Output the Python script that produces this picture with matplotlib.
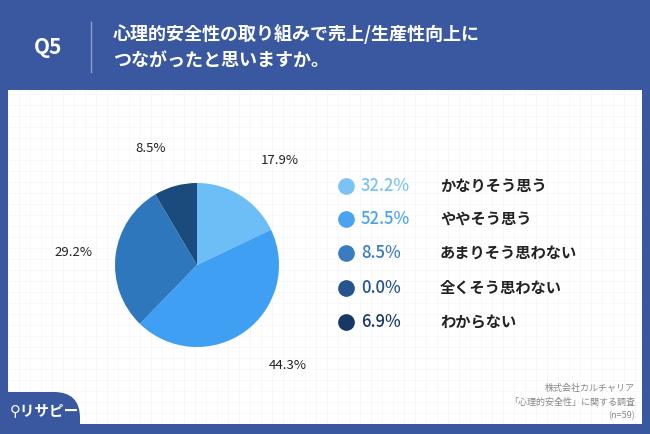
import matplotlib.pyplot as plt
from matplotlib.patches import FancyBboxPatch

plt.rcParams['font.family'] = ['Noto Sans CJK JP', 'DejaVu Sans']

# data
pie_values = [17.9, 44.3, 29.2, 8.5]
pie_labels = ['17.9%', '44.3%', '29.2%', '8.5%']
pie_colors = ['#6dbdf6', '#3f9ff2', '#2f77bd', '#1b4a7c']

legend_pct = ['32.2%', '52.5%', '8.5%', '0.0%', '6.9%']
legend_names = ['かなりそう思う', 'ややそう思う', 'あまりそう思わない', '全くそう思わない', 'わからない']
legend_colors = ['#7cc3f5', '#4aa3f0', '#3a7cc0', '#24558c', '#173866']

W, H = 650, 434
fig = plt.figure(figsize=(6.5, 4.34), dpi=100)
fig.patch.set_facecolor('#3a58a0')

def fx(x): return x / W
def fy(y): return 1 - y / H

# white panel with faint grid
bg = fig.add_axes([fx(8), fy(424), fx(634), (424 - 90) / H])
bg.set_facecolor('white')
for gx in range(0, 634, 11):
    bg.axvline(gx, color='#f5f6f8', lw=0.5)
for gy in range(0, 334, 11):
    bg.axhline(gy, color='#f5f6f8', lw=0.5)
bg.set_xlim(0, 634); bg.set_ylim(0, 334)
bg.set_xticks([]); bg.set_yticks([])
for s in bg.spines.values():
    s.set_visible(False)
# logo corner
bg.add_patch(FancyBboxPatch((-40, -40), 112, 72, boxstyle='round,pad=0,rounding_size=26',
                            fc='#3a58a0', ec='none', zorder=5))
fig.text(fx(10), fy(410), '⚲リサピー', color='white', fontsize=10.5, va='center', fontweight='bold')

# header
fig.text(fx(48), fy(47), 'Q5', color='white', fontsize=15, fontweight='bold', va='center', ha='center')
fig.add_artist(plt.Line2D([fx(91), fx(91)], [fy(22), fy(72)], color='#8da0cc', lw=1))
fig.text(fx(113), fy(34), '心理的安全性の取り組みで売上/生産性向上に', color='white',
         fontsize=13, fontweight='bold', va='center')
fig.text(fx(113), fy(61), 'つながったと思いますか。', color='white',
         fontsize=13, fontweight='bold', va='center')

# pie
R = 82
ax = fig.add_axes([fx(197 - 130), fy(265 + 130), 260 / W, 260 / H])
wedges, texts = ax.pie(pie_values, colors=pie_colors, startangle=90, counterclock=False,
                       radius=1, labels=pie_labels, labeldistance=1.28,
                       textprops=dict(fontsize=9.5, color='#222222'))
texts[0].set_position((0.78, 1.27))
texts[1].set_position((0.88, -1.22))
texts[3].set_position((-0.38, 1.42))
ax.set_xlim(-130 / R, 130 / R); ax.set_ylim(-130 / R, 130 / R)
ax.set_aspect('auto')
ax.axis('off')

# legend
ys = [186, 219, 253, 288, 322]
for y, p, n, c in zip(ys, legend_pct, legend_names, legend_colors):
    fig.add_artist(plt.Line2D([fx(346)], [fy(y)], marker='o', ms=11, color=c, ls='none'))
    fig.text(fx(361), fy(y), p, color=c, fontsize=12, va='center', fontweight='medium')
    fig.text(fx(440), fy(y), n, color='#222222', fontsize=11, fontweight='bold', va='center')

# source note
for y, t in zip([388, 402, 416], ['株式会社カルチャリア', '「心理的安全性」に関する調査', '(n=59)']):
    fig.text(fx(635), fy(y), t, color='#888888', fontsize=6.5, va='center', ha='right')

fig.savefig('out.png', dpi=100, facecolor=fig.get_facecolor())
